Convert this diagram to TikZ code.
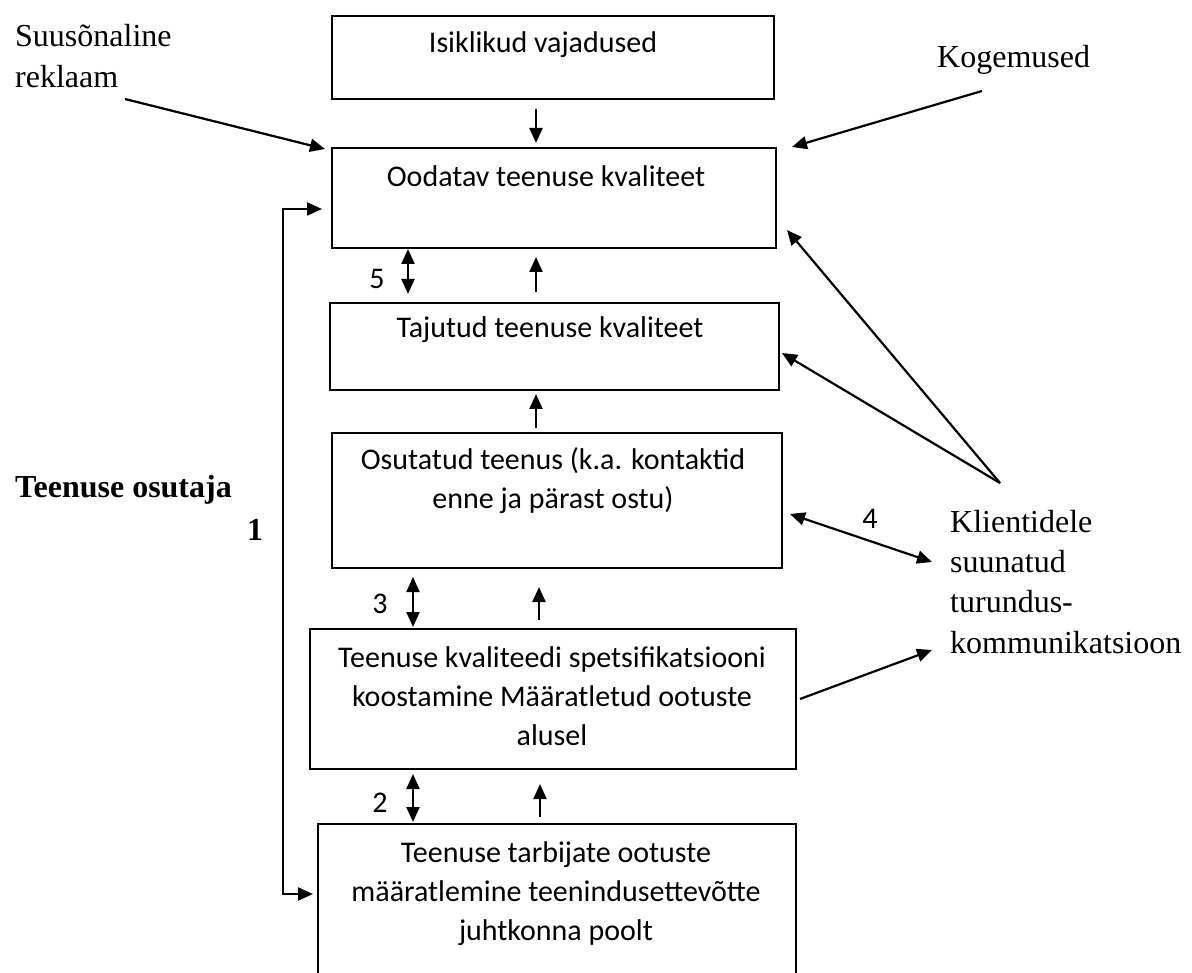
\documentclass[tikz,border=0pt]{standalone}
\usepackage{fontspec}
\setmainfont{Liberation Serif}
\newfontfamily\carl{Carlito}
\usetikzlibrary{arrows.meta}
\newcommand{\mlc}[1]{\begin{tabular}[t]{@{}c@{}}#1\end{tabular}}
\newcommand{\mll}[1]{\begin{tabular}[t]{@{}l@{}}#1\end{tabular}}
\begin{document}
\begin{tikzpicture}[x=1pt,y=-1pt,
  box/.style={draw, line width=2pt, inner sep=0pt, anchor=north west},
  btxt/.style={font=\carl\fontsize{30}{39}\selectfont, inner sep=0pt, anchor=base},
  stxt/.style={font=\fontsize{32}{40.5}\selectfont, inner sep=0pt, anchor=base west},
  num/.style={font=\carl\fontsize{30}{36}\selectfont, inner sep=0pt, anchor=base},
  tip/.tip={Triangle[width=13pt,length=15pt]},
  arr/.style={line width=2.2pt, -tip},
  darr/.style={line width=2.2pt, tip-tip},
]
\useasboundingbox (0,0) rectangle (1192,973);
\clip (0,0) rectangle (1192,973);

% boxes
\node[box, minimum width=442pt, minimum height=83pt] (b1) at (331,15) {};
\node[box, minimum width=444pt, minimum height=100pt] (b2) at (331,147) {};
\node[box, minimum width=449pt, minimum height=87pt] (b3) at (329,302) {};
\node[box, minimum width=450pt, minimum height=135pt] (b4) at (331,432) {};
\node[box, minimum width=486pt, minimum height=140pt] (b5) at (309,628) {};
\node[box, minimum width=478pt, minimum height=200pt] (b6) at (317,823) {};

% box texts
\node[btxt] (t1) at (543,53) {Isiklikud vajadused};
\node[btxt] (t2) at (546,187) {Oodatav teenuse kvaliteet};
\node[btxt] (t3) at (550,338) {Tajutud teenuse kvaliteet};
\node[btxt] (t4) at (553,470) {\mlc{Osutatud teenus (k.a. kontaktid\\enne ja pärast ostu)}};
\node[btxt] (t5) at (552,667) {\mlc{Teenuse kvaliteedi spetsifikatsiooni\\koostamine Määratletud ootuste\\alusel}};
\node[btxt] (t6) at (556,862) {\mlc{Teenuse tarbijate ootuste\\määratlemine teenindusettevõtte\\juhtkonna poolt}};

% outer labels
\node[stxt, font=\fontsize{32}{41}\selectfont] (sr) at (15,47) {\mll{Suusõnaline\\reklaam}};
\node[stxt] (kg) at (937,68) {Kogemused};
\node[stxt] (kl) at (950,532) {\mll{Klientidele\\suunatud\\turundus-\\kommunikatsioon}};
\node[stxt] (to) at (15,497) {\bfseries Teenuse osutaja};
\node[anchor=base, inner sep=0pt, font=\bfseries\fontsize{32}{36}\selectfont] (n1) at (255,540) {1};
\node[num] (n5) at (377,289) {5};
\node[num] (n3) at (380,613) {3};
\node[num] (n2) at (380,812) {2};
\node[num] (n4) at (870,528) {4};

% vertical flow arrows
\coordinate (ax) at (536,0);
\coordinate (ax2) at (539,0);
\coordinate (ax3) at (540,0);
\draw[arr, shorten <=9pt, shorten >=4pt] (b1.south -| ax) -- (b2.north -| ax);
\draw[arr, shorten <=10pt, shorten >=8pt] (b3.north -| ax) -- (b2.south -| ax);
\draw[arr, shorten <=4pt, shorten >=3pt] (b4.north -| ax) -- (b3.south -| ax);
\draw[arr, shorten <=8pt, shorten >=18pt] (b5.north -| ax2) -- (b4.south -| ax2);
\draw[arr, shorten <=6pt, shorten >=14pt] (b6.north -| ax3) -- (b5.south -| ax3);

% gap arrows
\coordinate (dx5) at (408,0);
\coordinate (dx3) at (413,0);
\draw[darr, shorten <=0pt, shorten >=8pt] (b2.south -| dx5) -- (b3.north -| dx5);
\draw[darr, shorten <=8pt, shorten >=1pt] (b4.south -| dx3) -- (b5.north -| dx3);
\draw[darr, shorten <=4pt, shorten >=1pt] (b5.south -| dx3) -- (b6.north -| dx3);

% feedback loop 1
\coordinate (f1) at (283,209);
\coordinate (f2) at (283,894);
\draw[darr, shorten <=4pt, shorten >=9pt] (b6.west |- f2) -- (f2) -- (f1) -- (b2.west |- f1);

% external influences
\draw[arr] ([shift={(110,52)}]sr.base west) -- ([shift={(-6,2)}]b2.north west);
\draw[arr] ([shift={(45,23)}]kg.base west) -- ([shift={(15,0)}]b2.north east);
\draw[arr] ([shift={(50,-49)}]kl.base west) -- ([shift={(10,-19)}]b2.south east);
\draw[arr] ([shift={(50,-49)}]kl.base west) -- ([shift={(2,6.5)}]b3.east);
\draw[darr] ([shift={(7,13.5)}]b4.east) -- ([shift={(-18,30)}]kl.base west);
\draw[arr] ([shift={(3,0)}]b5.east) -- ([shift={(-18,118)}]kl.base west);
\end{tikzpicture}
\end{document}
